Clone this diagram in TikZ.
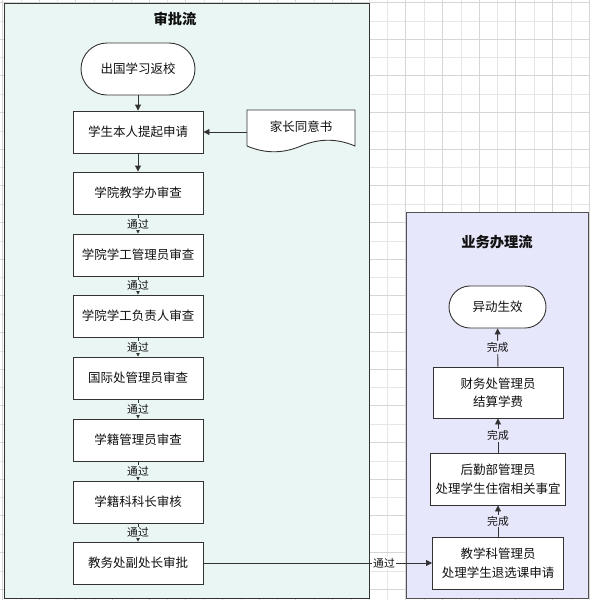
\documentclass[tikz,border=0pt]{standalone}
\usepackage{fontspec}
\setmainfont{Noto Sans CJK SC}
\usetikzlibrary{arrows.meta}
\definecolor{lanea}{HTML}{EAF6F4}
\definecolor{laneb}{HTML}{E7E7FB}
\definecolor{boxc}{HTML}{333333}
\definecolor{txt}{HTML}{111111}
\definecolor{gridmaj}{HTML}{D6D6D6}
\definecolor{gridmin}{HTML}{E6E6E6}
\begin{document}
\begin{tikzpicture}[x=1pt,y=-1pt,
  box/.style={draw=boxc, fill=white, line width=0.9pt, minimum width=130pt, minimum height=42pt, inner sep=0pt, align=center, font=\fontsize{12.5}{18.5}\selectfont, text=txt},
  tallbox/.style={box, minimum height=52pt},
  lanetitle/.style={font=\fontsize{14.3}{16}\selectfont\bfseries, text=txt, inner sep=0pt},
  lab/.style={font=\fontsize{10.8}{12}\selectfont, text=txt, inner sep=1pt},
  arr/.style={draw=boxc, line width=0.9pt, -{Triangle[length=6pt,width=6pt]}}
]
\useasboundingbox (0,0) rectangle (590,600);
\fill[white] (0,0) rectangle (590,600);
% grid
\foreach \i in {1,3,...,31} {
  \draw[gridmin, line width=0.6pt] ({2.5+\i*18.333},0) -- ({2.5+\i*18.333},600);
  \draw[gridmin, line width=0.6pt] (0,{2.5+\i*18.333}) -- (590,{2.5+\i*18.333});
}
\foreach \i in {0,2,...,32} {
  \draw[gridmaj, line width=0.7pt] ({2.5+\i*18.333},0) -- ({2.5+\i*18.333},600);
  \draw[gridmaj, line width=0.7pt] (0,{2.5+\i*18.333}) -- (590,{2.5+\i*18.333});
}
% swimlanes
\draw[fill=lanea, draw=boxc, line width=0.9pt] (4,3) rectangle (369,598);
\draw[fill=laneb, draw=boxc!85, line width=0.9pt] (406,212) rectangle (588,598);
\node[lanetitle] (t1) at (175,19) {审批流};
\node[lanetitle] (t2) at (497,242) {业务办理流};

% left flow
\node[box, minimum width=114pt, minimum height=52pt, rounded corners=26pt] (n1) at (138,69) {出国学习返校};
\node[box] (n2) at (138,132) {学生本人提起申请};
\node[box] (n3) at (138,193) {学院教学办审查};
\node[box] (n4) at (138,255) {学院学工管理员审查};
\node[box] (n5) at (138,316) {学院学工负责人审查};
\node[box] (n6) at (138,378) {国际处管理员审查};
\node[box] (n7) at (138,440) {学籍管理员审查};
\node[box] (n8) at (138,502) {学籍科科长审核};
\node[box] (n9) at (138,563) {教务处副处长审批};

% document
\draw[draw=boxc, fill=white, line width=0.9pt] (247,110) -- (355,110) -- (355,146)
  .. controls (337,138.3) and (319,138.3) .. (301,146)
  .. controls (283,153.7) and (265,153.7) .. (247,146) -- cycle;
\node[font=\fontsize{12.5}{15}\selectfont, text=txt, inner sep=0pt] (doc) at (301,127) {家长同意书};
\coordinate (docw) at (247,132);

% right flow
\node[box, minimum width=97pt, minimum height=42pt, rounded corners=21pt] (r4) at (497.5,307) {异动生效};
\node[tallbox, minimum height=51pt] (r3) at (498,392.5) {财务处管理员\\结算学费};
\node[tallbox, minimum width=135pt] (r2) at (498,479) {后勤部管理员\\处理学生住宿相关事宜};
\node[tallbox, minimum width=131pt] (r1) at (498,563) {教学科管理员\\处理学生退选课申请};

% connectors left
\draw[arr] (n1) -- (n2);
\draw[arr] (docw) -- (n2.east);
\draw[arr] (n2) -- (n3);
\draw[arr] (n3) -- node[lab, fill=lanea] {通过} (n4);
\draw[arr] (n4) -- node[lab, fill=lanea] {通过} (n5);
\draw[arr] (n5) -- node[lab, fill=lanea] {通过} (n6);
\draw[arr] (n6) -- node[lab, fill=lanea] {通过} (n7);
\draw[arr] (n7) -- node[lab, fill=lanea] {通过} (n8);
\draw[arr] (n8) -- node[lab, fill=lanea] {通过} (n9);
\draw[arr] (n9.east) -- node[lab, fill=white, pos=0.79] {通过} (r1.west);

% connectors right
\draw[arr] (r1) -- node[lab, fill=laneb] {完成} (r2);
\draw[arr] (r2) -- node[lab, fill=laneb] {完成} (r3);
\draw[arr] (r3) -- node[lab, fill=laneb] {完成} (r4);
\end{tikzpicture}
\end{document}
